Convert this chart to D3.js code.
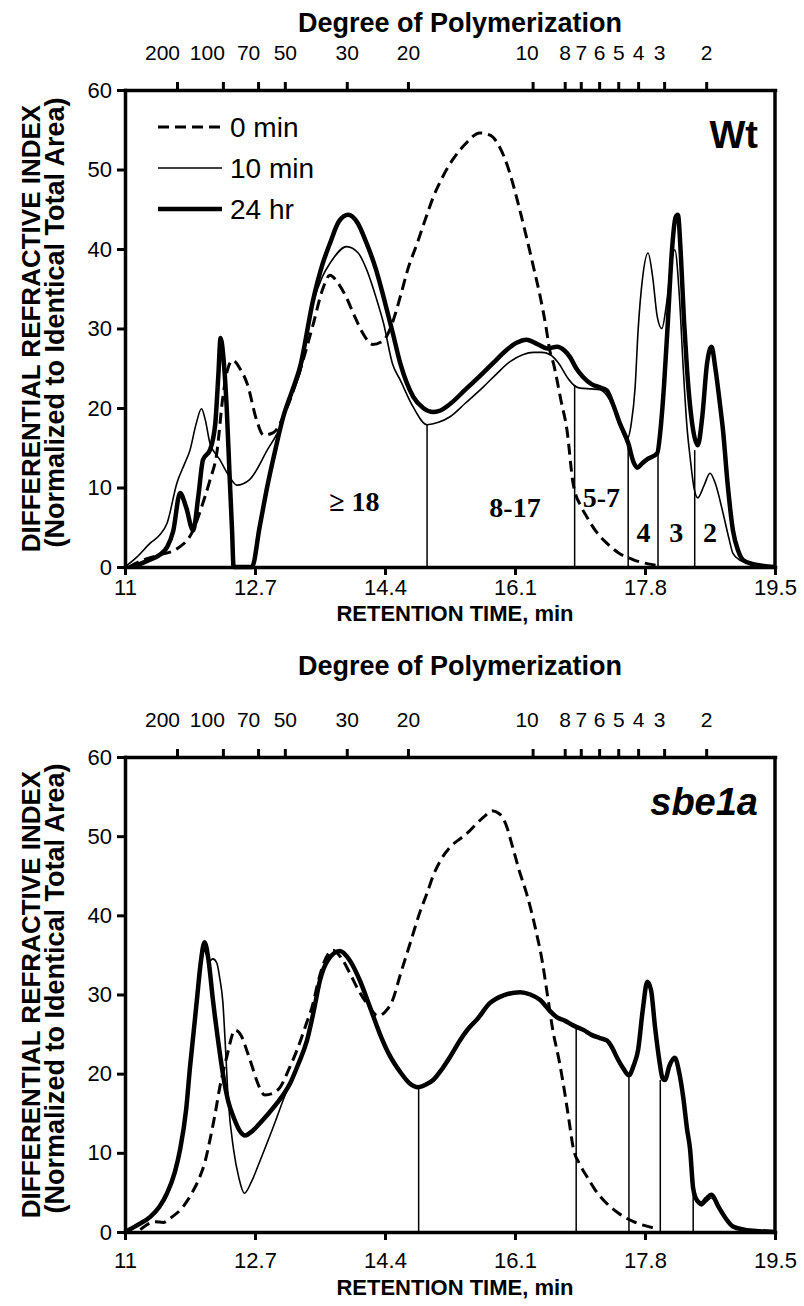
<!DOCTYPE html>
<html>
<head>
<meta charset="utf-8">
<script src="https://cdn.jsdelivr.net/npm/d3@7"></script>
<style>
  body { margin: 0; background: #fff; }
  text { font-family: "Liberation Sans", Arial, sans-serif; fill: #000; }
</style>
</head>
<body>
<div class="container"></div>
<script>
const WIDTH = 804;
const HEIGHT = 1306;

// axis ticks
const timeTicks = [11, 12.7, 14.4, 16.1, 17.8, 19.5];
const valueTicks = [0, 10, 20, 30, 40, 50, 60];
const dpLabels = [200, 100, 70, 50, 30, 20, 10, 8, 7, 6, 5, 4, 3, 2];
const dpTimes = [11.68, 12.28, 12.74, 13.09, 13.9, 14.7, 16.33, 16.75, 16.96, 17.2, 17.45, 17.71, 18.05, 18.6];
const legendNames = ['0 min', '10 min', '24 hr'];

// Wt panel, [retention time, signal]
const wt0 = [[11.05,0],[11.24,0.9],[11.45,1.5],[11.68,2.3],[11.89,4.6],[12.0,7.5],[12.11,10.9],[12.2,14.3],[12.28,21.4],[12.34,24.8],[12.41,26],[12.5,25],[12.6,23],[12.72,18.5],[12.81,16.6],[12.94,16.9],[13.12,20.1],[13.29,24.8],[13.46,30.5],[13.58,34.8],[13.68,36.7],[13.78,35.8],[13.9,33.8],[14.0,31.6],[14.11,29.4],[14.24,28],[14.35,28.3],[14.42,29],[14.5,30.8],[14.6,34],[14.7,37.5],[14.82,40.7],[14.93,43.8],[15.03,46.5],[15.15,49],[15.29,51.3],[15.45,53.2],[15.64,54.6],[15.78,54.3],[15.9,52.8],[16.0,50.5],[16.07,48.3],[16.16,45],[16.25,41.5],[16.34,37.8],[16.43,34],[16.5,30.5],[16.56,27],[16.6,25.7],[16.7,21],[16.78,17.2],[16.86,10.5],[16.97,7.5],[17.04,6.3],[17.15,4.6],[17.3,3],[17.45,1.8],[17.65,0.9],[17.96,0.2]];
const wt10 = [[11.0,0],[11.15,1.2],[11.33,3],[11.45,4],[11.55,5.5],[11.68,10.6],[11.78,13],[11.85,14.7],[11.93,18],[12.0,19.9],[12.05,18.5],[12.11,15.6],[12.24,13.5],[12.37,11.3],[12.46,10.3],[12.63,11],[12.86,14.7],[13.03,17.6],[13.18,21.8],[13.29,24.4],[13.46,33.2],[13.58,36.5],[13.68,38.2],[13.9,40.3],[14.05,39.5],[14.16,37.4],[14.28,34],[14.38,30.7],[14.5,25.5],[14.6,23.5],[14.77,20.1],[14.95,17.9],[15.1,18.2],[15.25,18.9],[15.45,20.6],[15.68,22.6],[15.85,24.2],[16.03,25.8],[16.2,26.7],[16.34,27],[16.45,27],[16.56,26.7],[16.68,25.5],[16.78,23.9],[16.88,22.8],[16.95,22.5],[17.1,22.4],[17.21,22.3],[17.34,21],[17.45,18.5],[17.56,16],[17.62,18],[17.67,22.5],[17.71,29.8],[17.77,36.5],[17.84,39.5],[17.9,36.5],[17.96,31.5],[18.02,30],[18.08,33],[18.14,38],[18.19,39.9],[18.25,34],[18.3,25],[18.35,17.5],[18.39,13.8],[18.44,10],[18.49,8.7],[18.57,10.2],[18.65,11.8],[18.72,10.5],[18.82,6.8],[18.9,3.5],[18.95,1.7],[19.05,0.8],[19.13,0.5],[19.3,0.2],[19.5,0]];
const wt24 = [[11.1,0],[11.3,0.8],[11.45,1.5],[11.55,2.5],[11.63,4.5],[11.72,9.3],[11.8,7.5],[11.89,4.6],[11.96,9],[12.02,13.5],[12.11,14.7],[12.18,18],[12.22,24],[12.25,28.8],[12.29,26],[12.33,20],[12.37,11],[12.4,4.6],[12.42,0],[12.66,0],[12.76,5],[12.86,10.1],[12.96,14.5],[13.07,18.9],[13.18,22],[13.29,25.2],[13.46,33.6],[13.58,38],[13.68,40.7],[13.8,43.5],[13.92,44.3],[14.04,43.3],[14.16,40.7],[14.28,37.5],[14.38,34],[14.5,29.5],[14.6,25.6],[14.77,21.4],[14.9,20],[15.03,19.5],[15.1,19.6],[15.25,20.5],[15.45,22.3],[15.68,24.4],[15.85,26],[15.99,27.3],[16.12,28.2],[16.25,28.6],[16.4,28],[16.52,27.5],[16.65,27.7],[16.75,27.2],[16.82,26.4],[16.9,25],[16.99,23.9],[17.1,23],[17.21,22.6],[17.3,22.2],[17.38,20.5],[17.47,18.1],[17.58,15.6],[17.65,13.2],[17.7,12.5],[17.76,13],[17.82,13.5],[17.96,14.3],[18.0,17],[18.05,23],[18.1,31],[18.15,39.5],[18.2,44],[18.23,44.3],[18.27,39],[18.31,31],[18.35,24.8],[18.43,17.2],[18.49,15.3],[18.55,19],[18.61,25.5],[18.67,27.7],[18.72,25],[18.78,20.5],[18.82,17.2],[18.88,10.5],[18.95,4.6],[19.02,2],[19.08,0.9],[19.2,0.4],[19.5,0]];
const wtCuts = [14.95, 16.88, 17.58, 17.97, 18.45];
const wtCutTops = [17.9, 22.9, 16, 14.3, 14.7];
const wtFractions = ['\u2265 18', '8-17', '5-7', '4', '3', '2'];
const wtFractionTimes = [14.0, 16.1, 17.23, 17.78, 18.21, 18.65];
const wtFractionValues = [7.0, 6.3, 7.5, 3.1, 3.1, 3.1];

// sbe1a panel
const sb0 = [[11.2,0.3],[11.3,1],[11.39,1.3],[11.5,1.2],[11.6,1.8],[11.76,3.2],[11.88,5],[11.98,7],[12.05,9],[12.11,11.6],[12.18,15],[12.24,18.3],[12.33,22.1],[12.44,25.5],[12.52,24.8],[12.59,23],[12.66,21],[12.72,19.2],[12.83,17.3],[12.93,17.5],[13.03,18.3],[13.14,20.5],[13.25,23],[13.36,26],[13.46,28.9],[13.51,31],[13.6,34],[13.72,35.6],[13.83,34.6],[13.94,32.7],[14.05,30.6],[14.16,28.9],[14.31,27.3],[14.4,27.8],[14.5,29.3],[14.6,32.5],[14.73,36.5],[14.86,40.5],[14.95,42.8],[15.03,45],[15.13,47],[15.25,48.6],[15.4,49.8],[15.5,50.6],[15.6,51.6],[15.7,52.5],[15.8,53.2],[15.9,52.8],[15.98,51.5],[16.07,48.6],[16.16,45.5],[16.25,42.8],[16.38,37.8],[16.46,34],[16.52,30.2],[16.6,25.2],[16.67,22],[16.73,18.8],[16.8,14.5],[16.86,10.7],[16.95,8.5],[17.04,7],[17.15,5.3],[17.3,3.6],[17.45,2.4],[17.65,1.3],[17.8,0.8],[17.96,0.4]];
const sb10 = [[11.0,0],[11.15,0.8],[11.33,1.9],[11.45,3.2],[11.55,4.9],[11.65,7.5],[11.72,10.4],[11.8,15.5],[11.85,20.8],[11.9,25.5],[11.94,29.3],[11.99,33.5],[12.04,35.5],[12.1,34.2],[12.15,34.5],[12.2,34],[12.24,32],[12.28,29],[12.31,24],[12.35,16.7],[12.42,10.4],[12.49,6.8],[12.56,4.9],[12.66,6.5],[12.77,9.1],[12.94,13.3],[13.12,17.9],[13.2,19.6],[13.27,21.3],[13.38,24.2],[13.47,28],[13.55,31.8],[13.65,34.3],[13.81,35.5],[13.94,34.3],[14.07,31.8],[14.2,28.5],[14.33,25.1],[14.45,22.5],[14.6,20.2],[14.72,18.8],[14.83,18.3],[14.93,18.6],[15.03,19.2],[15.14,20.5],[15.25,22.1],[15.38,24.2],[15.5,25.8],[15.6,26.8],[15.77,28.9],[15.95,29.9],[16.17,30.3],[16.3,30],[16.43,29.3],[16.55,28],[16.65,27.1],[16.75,26.7],[16.86,26.1],[17.0,25.5],[17.1,24.9],[17.21,24.5],[17.3,24.2],[17.37,23.3],[17.43,22.1],[17.52,20.6],[17.59,19.8],[17.65,21],[17.71,23],[17.77,28],[17.83,31.6],[17.88,30.5],[17.93,26],[17.99,21.5],[18.03,19.4],[18.06,19.2],[18.12,21],[18.19,22],[18.25,20],[18.3,17],[18.35,13],[18.39,10.4],[18.43,5.5],[18.48,3.8],[18.54,3.3],[18.6,3.8],[18.67,4.3],[18.76,3],[18.85,1.7],[18.95,0.7],[19.1,0.3],[19.3,0.1],[19.5,0]];
const sb24 = [[11.0,0],[11.15,0.8],[11.33,1.9],[11.45,3.2],[11.55,4.9],[11.65,7.5],[11.72,10.4],[11.8,15.5],[11.85,20.8],[11.9,25.5],[11.94,29.3],[11.99,34],[12.04,36.6],[12.09,34.5],[12.15,29.3],[12.22,24],[12.28,20],[12.35,16.5],[12.42,14.5],[12.5,12.8],[12.57,12.2],[12.67,12.8],[12.77,13.8],[12.88,15],[12.99,16.3],[13.08,17.5],[13.16,18.8],[13.27,21.3],[13.38,24.2],[13.47,28],[13.55,31.8],[13.65,34.3],[13.81,35.5],[13.94,34.3],[14.07,31.8],[14.2,28.5],[14.33,25.1],[14.45,22.5],[14.6,20.2],[14.72,18.8],[14.83,18.3],[14.93,18.6],[15.03,19.2],[15.14,20.5],[15.25,22.1],[15.38,24.2],[15.5,25.8],[15.6,26.8],[15.77,28.9],[15.95,29.9],[16.17,30.3],[16.3,30],[16.43,29.3],[16.55,28],[16.65,27.1],[16.75,26.7],[16.86,26.1],[17.0,25.5],[17.1,24.9],[17.21,24.5],[17.3,24.2],[17.37,23.3],[17.43,22.1],[17.52,20.6],[17.59,19.8],[17.65,21],[17.71,23],[17.77,28],[17.83,31.6],[17.88,30.5],[17.93,26],[17.99,21.5],[18.03,19.4],[18.06,19.2],[18.12,21],[18.19,22],[18.25,20],[18.3,17],[18.35,13],[18.39,10.4],[18.43,5.5],[18.48,4],[18.54,3.6],[18.6,4.2],[18.67,4.7],[18.76,3.2],[18.85,1.8],[18.95,0.7],[19.1,0.3],[19.3,0.1],[19.5,0]];
const sbCuts = [14.84, 16.9, 17.59, 18.0, 18.43];
const sbCutTops = [18.3, 25.9, 19.8, 19.2, 5];

// line looks for 0 min / 10 min / 24 hr
const STYLES = [
    { width: 3, dash: '11,6' },
    { width: 1.6, dash: null },
    { width: 4.5, dash: null }
];
// the DP numbers sit a little off their ticks in the original
const DP_NUDGE = [-15, -16, -10, 0, 0, 0, -6, 0, 0, 0, 0, 0, -5, 0];

var translate = function(x, y) {
    return `translate(${x},${y})`;
};

var xScale = d3.scaleLinear().domain([11, 19.5]).range([125, 775]);

var styleAxis = function(g, size) {
    g.attr('font-size', size);
    g.select('.domain').attr('stroke-width', 3.5).attr('stroke-linecap', 'square');
    g.selectAll('.tick line').attr('stroke-width', 3);
};

var drawPanel = function(svg, p) {
    var yScale = d3.scaleLinear().domain([0, 60]).range([p.bottom, p.top]);
    var g = svg.append('g');

    p.cuts.forEach((c, i) => {
        g.append('line')
            .attr('x1', xScale(c)).attr('x2', xScale(c))
            .attr('y1', yScale(0)).attr('y2', yScale(p.cutTops[i]))
            .attr('stroke', '#000').attr('stroke-width', 1.5);
    });

    var line = d3.line()
        .x(d => xScale(d[0]))
        .y(d => yScale(d[1]))
        .curve(d3.curveMonotoneX);

    p.series.forEach((s, i) => {
        g.append('path')
            .attr('d', line(s))
            .attr('fill', 'none')
            .attr('stroke', '#000')
            .attr('stroke-width', STYLES[i].width)
            .attr('stroke-dasharray', STYLES[i].dash)
            .attr('stroke-linejoin', 'round');
    });

    // right frame
    svg.append('line')
        .attr('x1', 775).attr('x2', 775)
        .attr('y1', p.top).attr('y2', p.bottom)
        .attr('stroke', '#000').attr('stroke-width', 3.5);

    svg.append('g')
        .attr('transform', translate(0, p.bottom))
        .call(d3.axisBottom(xScale).tickValues(timeTicks).tickSize(8).tickSizeOuter(0).tickPadding(p.xPad).tickFormat(d => String(d)))
        .call(styleAxis, 22);

    var top = svg.append('g')
        .attr('transform', translate(0, p.top))
        .call(d3.axisTop(xScale).tickValues(dpTimes).tickSize(8).tickSizeOuter(0).tickPadding(22).tickFormat((d, i) => dpLabels[i]))
        .call(styleAxis, 21);
    top.selectAll('.tick text').attr('dx', (d, i) => DP_NUDGE[i]);

    svg.append('g')
        .attr('transform', translate(125, 0))
        .call(d3.axisLeft(yScale).tickValues(valueTicks).tickSize(8).tickSizeOuter(0).tickPadding(5))
        .call(styleAxis, 22);

    svg.append('text')
        .attr('x', 460).attr('y', p.titleY)
        .attr('text-anchor', 'middle')
        .attr('font-size', 27).attr('font-weight', 'bold')
        .text('Degree of Polymerization');

    svg.append('text')
        .attr('x', 455).attr('y', p.bottom + p.xTitle)
        .attr('text-anchor', 'middle')
        .attr('font-size', 22).attr('font-weight', 'bold')
        .text('RETENTION TIME, min');

    var cy = (p.top + p.bottom) / 2;
    svg.append('text')
        .attr('transform', translate(40, cy) + ' rotate(-90)')
        .attr('text-anchor', 'middle')
        .attr('font-size', 26).attr('font-weight', 'bold')
        .text('DIFFERENTIAL REFRACTIVE INDEX');
    svg.append('text')
        .attr('transform', translate(64, cy - 6) + ' rotate(-90)')
        .attr('text-anchor', 'middle')
        .attr('font-size', 27).attr('font-weight', 'bold')
        .text('(Normalized to Identical Total Area)');

    svg.append('text')
        .attr('x', 758).attr('y', p.top + 58)
        .attr('text-anchor', 'end')
        .attr('font-size', 38).attr('font-weight', 'bold')
        .attr('font-style', p.italic ? 'italic' : 'normal')
        .text(p.name);

    return yScale;
};

var fillLayout = function() {
    var svg = d3.select('.container').append('svg')
        .attr('width', WIDTH)
        .attr('height', HEIGHT);

    var yTop = drawPanel(svg, {
        top: 90, bottom: 567, titleY: 32, xPad: 4, xTitle: 54, name: 'Wt', italic: false,
        series: [wt0, wt10, wt24], cuts: wtCuts, cutTops: wtCutTops
    });

    wtFractions.forEach((t, i) => {
        svg.append('text')
            .attr('x', xScale(wtFractionTimes[i]))
            .attr('y', yTop(wtFractionValues[i]))
            .attr('text-anchor', 'middle')
            .style('font-family', '"Liberation Serif", "Times New Roman", serif')
            .attr('font-size', 28).attr('font-weight', 'bold')
            .text(t);
    });

    // legend
    var lg = svg.append('g').attr('transform', translate(158, 127));
    legendNames.forEach((n, i) => {
        lg.append('line')
            .attr('x1', 0).attr('x2', 64)
            .attr('y1', i * 41).attr('y2', i * 41)
            .attr('stroke', '#000')
            .attr('stroke-width', STYLES[i].width)
            .attr('stroke-dasharray', STYLES[i].dash);
        lg.append('text')
            .attr('x', 72).attr('y', i * 41 + 10)
            .attr('font-size', 28)
            .text(n);
    });

    drawPanel(svg, {
        top: 757, bottom: 1232, titleY: 675, xPad: 12, xTitle: 63, name: 'sbe1a', italic: true,
        series: [sb0, sb10, sb24], cuts: sbCuts, cutTops: sbCutTops
    });
};
window.onload = fillLayout;
</script>
</body>
</html>
